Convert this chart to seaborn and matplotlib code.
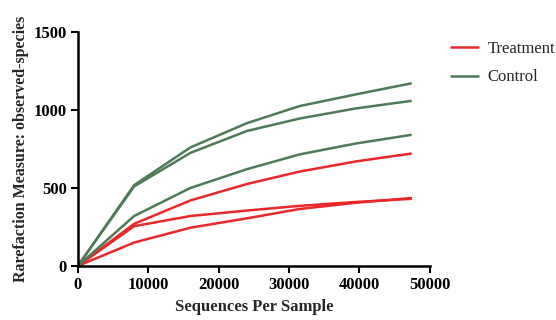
import pandas as pd
import matplotlib.pyplot as plt
import seaborn as sns

depths = [0, 8000, 16000, 24000, 31500, 39500, 47300]

treatment_1 = [0, 270, 420, 525, 605, 670, 720]
treatment_2 = [0, 255, 320, 355, 385, 410, 430]
treatment_3 = [0, 150, 245, 305, 365, 405, 435]
control_1 = [0, 518, 760, 915, 1025, 1100, 1170]
control_2 = [0, 510, 725, 865, 945, 1010, 1058]
control_3 = [0, 320, 500, 620, 715, 785, 840]


def main():
    rows = []
    samples = [('Treatment', 'T1', treatment_1), ('Treatment', 'T2', treatment_2),
               ('Treatment', 'T3', treatment_3), ('Control', 'C1', control_1),
               ('Control', 'C2', control_2), ('Control', 'C3', control_3)]
    for group, name, vals in samples:
        for d, v in zip(depths, vals):
            rows.append({'group': group, 'sample': name, 'depth': d, 'species': v})
    df = pd.DataFrame(rows)

    sns.set_style('ticks')
    plt.rcParams['font.family'] = ['Liberation Serif', 'DejaVu Serif']

    fig = plt.figure(figsize=(5.56, 3.2), dpi=100)
    ax = fig.add_axes([0.140, 0.169, 0.633, 0.731])

    sns.lineplot(data=df, x='depth', y='species', hue='group', units='sample',
                 estimator=None, palette={'Treatment': '#e8282b', 'Control': '#4f7a57'},
                 linewidth=1.8, ax=ax)

    ax.set_xlim(0, 50000)
    ax.set_ylim(0, 1500)
    ax.set_xticks([0, 10000, 20000, 30000, 40000, 50000])
    ax.set_yticks([0, 500, 1000, 1500])
    ax.set_xlabel('Sequences Per Sample', fontsize=12, fontweight='bold', labelpad=4)
    ax.set_ylabel('Rarefaction Measure: observed-species', fontsize=11.5,
                  fontweight='bold', labelpad=3)
    for lab in ax.get_xticklabels() + ax.get_yticklabels():
        lab.set_fontweight('bold')
        lab.set_fontsize(12)
    ax.tick_params(width=1.5, length=5, direction='out', colors='black', pad=3)
    for s in ['left', 'bottom']:
        ax.spines[s].set_linewidth(1.8)
        ax.spines[s].set_color('black')
    sns.despine(ax=ax)

    handles, labels = ax.get_legend_handles_labels()
    ax.legend(handles, labels, loc='upper left', bbox_to_anchor=(0.812, 0.872),
              bbox_transform=fig.transFigure, frameon=False, fontsize=12,
              handlelength=1.6, handletextpad=0.55, labelspacing=0.75,
              borderaxespad=0, borderpad=0)

    plt.savefig('out.png', dpi=100)


if __name__ == '__main__':
    main()
